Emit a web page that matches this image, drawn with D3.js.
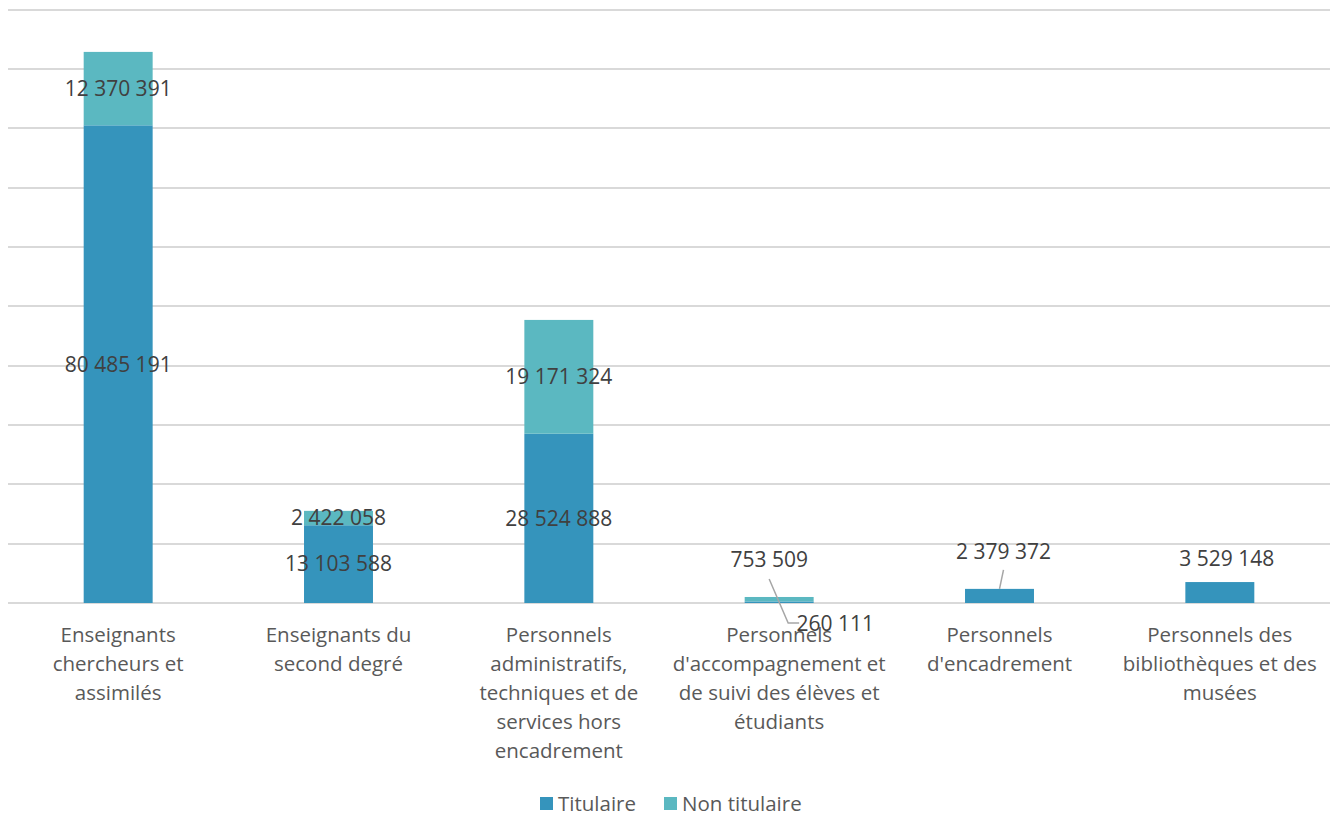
<!DOCTYPE html>
<html><head><meta charset="utf-8">
<script src="https://cdn.jsdelivr.net/npm/d3@7"></script>
<style>body{margin:0;background:#fff;}svg{display:block;font-family:"Open Sans",sans-serif;}</style>
</head><body>
<svg id="c" width="1335" height="820"></svg>
<script>
const categories = [
  "Enseignants chercheurs et assimilés",
  "Enseignants du second degré",
  "Personnels administratifs, techniques et de services hors encadrement",
  "Personnels d'accompagnement et de suivi des élèves et étudiants",
  "Personnels d'encadrement",
  "Personnels des bibliothèques et des musées"
];
const categoryLines = [
  ["Enseignants", "chercheurs et", "assimilés"],
  ["Enseignants du", "second degré"],
  ["Personnels", "administratifs,", "techniques et de", "services hors", "encadrement"],
  ["Personnels", "d'accompagnement et", "de suivi des élèves et", "étudiants"],
  ["Personnels", "d'encadrement"],
  ["Personnels des", "bibliothèques et des", "musées"]
];
const seriesNames = ["Titulaire", "Non titulaire"];
const titulaire = [80485191, 13103588, 28524888, 260111, 2379372, 3529148];
const nonTitulaire = [12370391, 2422058, 19171324, 753509, 0, 0];
const yTicks = [0,10e6,20e6,30e6,40e6,50e6,60e6,70e6,80e6,90e6,100e6];
const colors = ["#3594BC", "#5BB8C1"];

const svg = d3.select("#c");
const x = d3.scaleBand().domain(categories).range([8,1330]).paddingInner(0.687).paddingOuter(0.3435);
const y = d3.scaleLinear().domain([0,100e6]).range([603,9.5]);

// gridlines
svg.append("g").selectAll("line").data(yTicks).join("line")
  .attr("x1",8).attr("x2",1330)
  .attr("y1",d=>Math.round(y(d))).attr("y2",d=>Math.round(y(d)))
  .attr("stroke","#D9D9D9").attr("stroke-width",2);

const rows = categories.map((c,i)=>({cat:c, Titulaire:titulaire[i], "Non titulaire":nonTitulaire[i]}));
const stack = d3.stack().keys(seriesNames)(rows);

const gBars = svg.append("g");
stack.forEach((s,si)=>{
  gBars.selectAll(null).data(s.filter(d=>d[1]-d[0]>0)).join("rect")
    .attr("x",d=>x(d.data.cat)).attr("width",x.bandwidth())
    .attr("y",d=>y(d[1])).attr("height",d=>y(d[0])-y(d[1]))
    .attr("fill",colors[si]);
});

const fmt = v => d3.format(",")(v).replace(/,/g," ");
const lab = svg.append("g").attr("font-size",21).attr("fill","#404040").attr("text-anchor","middle");
function addLabel(xp,yp,v){
  lab.append("text").attr("x",xp).attr("y",yp).attr("dy","0.35em").text(fmt(v));
}
const cx = i => x(categories[i]) + x.bandwidth()/2;
// centered labels for the big bars
[0,1,2].forEach(i=>{
  addLabel(cx(i), (y(0)+y(titulaire[i]))/2, titulaire[i]);
  addLabel(cx(i), (y(titulaire[i])+y(titulaire[i]+nonTitulaire[i]))/2, nonTitulaire[i]);
});
// small bars with offset labels
const top3 = y(titulaire[3]+nonTitulaire[3]);
addLabel(cx(3)-10, top3-37, nonTitulaire[3]);
addLabel(cx(3)+56, y(0)+21, titulaire[3]);
svg.append("polyline")
  .attr("points",[[cx(3)-10,top3-18],[cx(3)+9,y(0)+20],[cx(3)+20,y(0)+20]].map(p=>p.join(",")).join(" "))
  .attr("fill","none").attr("stroke","#A6A6A6").attr("stroke-width",1.5);
addLabel(cx(4)+4, y(titulaire[4])-37, titulaire[4]);
svg.append("line")
  .attr("x1",cx(4)+4).attr("y1",y(titulaire[4])-19)
  .attr("x2",cx(4)).attr("y2",y(titulaire[4]))
  .attr("stroke","#A6A6A6").attr("stroke-width",1.5);
addLabel(cx(5)+7, y(titulaire[5])-23, titulaire[5]);

// category labels
const ax = svg.append("g").attr("font-size",20.5).attr("fill","#595959").attr("text-anchor","middle");
categories.forEach((c,i)=>{
  const t = ax.append("text").attr("x",cx(i)).attr("y",642);
  categoryLines[i].forEach((ln,j)=>t.append("tspan").attr("x",cx(i)).attr("dy",j?29:0).text(ln));
});

// legend
const lg = svg.append("g").attr("font-size",20.5).attr("fill","#595959");
const legX = [540, 664];
seriesNames.forEach((s,i)=>{
  lg.append("rect").attr("x",legX[i]).attr("y",797).attr("width",13).attr("height",13).attr("fill",colors[i]);
  lg.append("text").attr("x",legX[i]+18).attr("y",804).attr("dy","0.35em").text(s);
});
</script>
</body></html>
